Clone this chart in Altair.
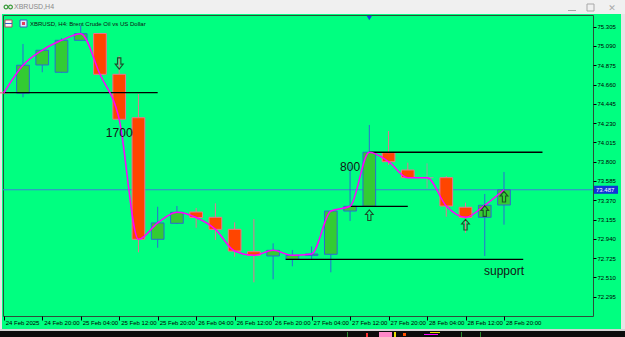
import altair as alt
import pandas as pd

# ---------------- data ----------------
bars = list(range(1, 28))
opens = [74.570, 74.563, 74.878, 74.797, 75.153, 75.229, 74.774, 74.290, 72.935, 73.113,
         73.239, 73.180, 73.046, 72.797, 72.749, 72.712, 72.756, 72.768, 73.250, 73.303,
         73.900, 73.707, 73.622, 73.622, 73.292, 73.180, 73.317]
highs = [74.585, 75.112, 75.050, 75.176, 75.318, 75.235, 74.978, 74.555, 73.298, 73.306,
         73.284, 73.336, 73.124, 73.161, 72.890, 72.816, 72.855, 73.250, 73.763, 74.209,
         74.142, 73.789, 73.782, 73.641, 73.343, 73.440, 73.685]
lows = [74.555, 74.518, 74.797, 74.790, 75.150, 74.770, 74.270, 72.790, 72.841, 73.105,
        73.064, 72.927, 72.741, 72.455, 72.489, 72.634, 72.715, 72.567, 73.139, 73.300,
        73.763, 73.620, 73.503, 73.187, 73.008, 72.749, 73.098]
closes = [74.566, 74.875, 75.042, 75.153, 75.227, 74.774, 74.273, 72.935, 73.117, 73.236,
          73.178, 73.046, 72.804, 72.756, 72.812, 72.756, 72.771, 73.250, 73.303, 73.905,
          73.800, 73.622, 73.622, 73.306, 73.180, 73.314, 73.487]

label_bars = [1, 3, 5, 7, 9, 11, 13, 15, 17, 19, 21, 23, 25, 27]
time_labels = ["24 Feb 2025", "24 Feb 20:00", "25 Feb 04:00", "25 Feb 12:00", "25 Feb 20:00",
               "26 Feb 04:00", "26 Feb 12:00", "26 Feb 20:00", "27 Feb 04:00", "27 Feb 12:00",
               "27 Feb 20:00", "28 Feb 04:00", "28 Feb 12:00", "28 Feb 20:00"]
price_ticks = [75.305, 75.090, 74.875, 74.660, 74.445, 74.230, 74.015, 73.800, 73.585,
               73.370, 73.155, 72.940, 72.725, 72.510, 72.295]

hl_start = [0.97, 20.0, 19.0, 15.65]
hl_end = [9.0, 29.0, 22.0, 28.0]
hl_price = [74.569, 73.905, 73.303, 72.712]

arrow_bars = [7, 20, 25, 26, 27]
arrow_prices = [74.895, 73.204, 73.098, 73.250, 73.410]
arrow_dirs = ["down", "up", "up", "up", "up"]

ann_text = ["1700", "800", "support"]
ann_bars = [7, 19, 27]
ann_prices = [74.123, 73.741, 72.580]

current_price = closes[-1]
symbol_title = "XBRUSD, H4:  Brent Crude Oil vs US Dollar"
window_title = "XBRUSD,H4"

# ---------------- geometry / styles ----------------
W, H = 590, 301
OX, OY = 3, 15  # plot origin in page pixels
GREEN = "#00ff80"
FONT = "Liberation Sans"

xs = alt.Scale(domain=[0.9605, 31.626], nice=False, zero=False)
ys = alt.Scale(domain=[72.080, 75.435], nice=False, zero=False)

kinds = ["bull", "bear", "doji"]
stroke_scale = alt.Scale(domain=kinds, range=["#2a6bd6", "#ec7090", "#9aa0a0"])
fill_scale = alt.Scale(domain=kinds, range=["#33cc33", "#ff4500", "#9aa0a0"])

df = pd.DataFrame({"bar": bars, "open": opens, "high": highs, "low": lows, "close": closes})
df["kind"] = ["bull" if c > o else ("bear" if c < o else "doji") for o, c in zip(opens, closes)]

lbl_arr = [""] * 28
for b, t in zip(label_bars, time_labels):
    lbl_arr[b] = t
label_expr = "[" + ",".join("'" + s + "'" for s in lbl_arr) + "][datum.value]"

x_axis = alt.Axis(values=label_bars, labelExpr=label_expr, orient="bottom", title=None,
                  grid=False, domain=False, ticks=True, tickSize=4, tickColor="#000000",
                  labelAlign="left", labelBaseline="middle", labelPadding=2, labelOffset=1.5,
                  labelFontSize=6, labelFont=FONT, labelColor="#000000",
                  labelOverlap=False, labelFlush=False, labelBound=False)
y_axis = alt.Axis(values=price_ticks, format=".3f", orient="right", title=None, grid=False,
                  domain=False, tickSize=3, tickColor="#000000", labelPadding=1,
                  labelFontSize=6, labelFont=FONT, labelColor="#000000",
                  labelOverlap=False, labelFlush=False, labelBound=False)


def X(field):
    return alt.X(field, type="quantitative", scale=xs, axis=x_axis)


def Y(field):
    return alt.Y(field, type="quantitative", scale=ys, axis=y_axis)


one = pd.DataFrame({"d": [0]})


def prect(x1, y1, x2, y2, fill, stroke=None, sw=1):
    kw = dict(clip=False)
    kw["fill"] = fill if fill else "transparent"
    if stroke:
        kw.update(stroke=stroke, strokeWidth=sw)
    return alt.Chart(one).mark_rect(**kw).encode(
        x=alt.value(x1 - OX), x2=alt.value(x2 - OX),
        y=alt.value(y1 - OY), y2=alt.value(y2 - OY))


def ptext(txt, x, y, size, color, align="left", font=FONT):
    return alt.Chart(one).mark_text(text=txt, fontSize=size, color=color, align=align,
                                    baseline="middle", font=font, clip=False).encode(
        x=alt.value(x - OX), y=alt.value(y - OY))


def pring(x, y):
    return alt.Chart(one).mark_point(shape="circle", size=14, filled=False, stroke="#3a9a3a",
                                     strokeWidth=1.2, opacity=1, clip=False).encode(
        x=alt.value(x - OX), y=alt.value(y - OY))


# ---------------- frame decorations ----------------
deco = [
    prect(0, 0, 625, 14, "#f0f0f0"),
    prect(0, 14, 2, 329, "#e6e6e6"),
    prect(621, 14, 625, 329, "#e6e6e6"),
    prect(0, 329, 625, 331, "#d4d4d4"),
    prect(0, 331, 625, 337, "#0c0c0c"),
    prect(379, 332, 392, 337, "#ff88c8"),
    prect(347, 332, 348, 337, "#2c8a2c"),
    prect(366, 333, 368, 337, "#ff3030"),
    prect(394, 332, 396, 337, "#e8e000"),
    prect(403, 333, 406, 336, "#ff5000"),
    prect(424, 334, 438, 335, "#ff00ff"),
    prect(430, 332, 440, 333, "#e8e000"),
    prect(461, 332, 462, 337, "#2c8a2c"),
    prect(480, 332, 481, 337, "#2c8a2c"),
    # window title bar
    pring(6, 7),
    pring(10.5, 7),
    ptext(window_title, 14, 7, 7, "#8a8a8a"),
    prect(568, 10, 576, 11, "#a8a8a8"),
    prect(587, 4, 594, 11, None, "#a8a8a8"),
    ptext("\u2715", 612, 7.5, 9, "#a8a8a8", align="center", font="DejaVu Sans"),
    # chart header icons
    prect(5, 20, 12, 27, "#f6f6f6", "#c04060"),
    prect(5, 23, 12, 24, "#3060c0"),
    prect(20, 20, 27, 27, "#dce6fa", "#3060c0"),
    prect(22, 22, 25, 25, "#e04060"),
    ptext(symbol_title, 30, 24, 6, "#101010"),
]

# ---------------- data layers ----------------
cur_df = pd.DataFrame({"price": [current_price], "lo": [current_price - 0.045],
                       "hi": [current_price + 0.045], "txt": [f"{current_price:.3f}"]})

cur_line = alt.Chart(cur_df).mark_rule(color="#3f7fd8", strokeWidth=1).encode(
    x=alt.value(0), x2=alt.value(W), y=Y("price"))

wicks = alt.Chart(df).mark_rule(strokeWidth=1).encode(
    x=X("bar"), y=Y("low"), y2="high:Q",
    stroke=alt.Stroke("kind:N", scale=stroke_scale, legend=None))

bodies = alt.Chart(df).transform_calculate(
    x0="datum.bar - 0.33", x1="datum.bar + 0.33"
).mark_rect(strokeWidth=1).encode(
    x=X("x0"), x2="x1:Q", y=Y("open"), y2="close:Q",
    fill=alt.Fill("kind:N", scale=fill_scale, legend=None),
    stroke=alt.Stroke("kind:N", scale=stroke_scale, legend=None))

hl_df = pd.DataFrame({"s": hl_start, "e": hl_end, "p": hl_price})
hlines = alt.Chart(hl_df).mark_rule(color="#000000", strokeWidth=1.3).encode(
    x=X("s"), x2="e:Q", y=Y("p"))

close_line = alt.Chart(df).mark_line(color="#ff00ff", strokeWidth=1.5, interpolate="monotone").encode(
    x=X("bar"), y=Y("close"))

arr_df = pd.DataFrame({"bar": arrow_bars, "price": arrow_prices, "dir": arrow_dirs})
UP = "M0,-1L0.72,-0.12L0.3,-0.12L0.3,1L-0.3,1L-0.3,-0.12L-0.72,-0.12Z"
DOWN = "M0,1L0.72,0.12L0.3,0.12L0.3,-1L-0.3,-1L-0.3,0.12L-0.72,0.12Z"
arrows_up = alt.Chart(arr_df).transform_filter("datum.dir == 'up'").mark_point(
    shape=UP, size=115, filled=False, stroke="#1c4d2a", strokeWidth=1.1, opacity=1).encode(
    x=X("bar"), y=Y("price"))
arrows_down = alt.Chart(arr_df).transform_filter("datum.dir == 'down'").mark_point(
    shape=DOWN, size=125, filled=False, stroke="#1c4d2a", strokeWidth=1.1, opacity=1).encode(
    x=X("bar"), y=Y("price"))

ann_df = pd.DataFrame({"bar": ann_bars, "price": ann_prices, "t": ann_text})
anns = alt.Chart(ann_df).mark_text(fontSize=12, font=FONT, color="#141414").encode(
    x=X("bar"), y=Y("price"), text="t:N")

shift_marker = alt.Chart(pd.DataFrame({"bar": [20]})).mark_point(
    shape="triangle-down", size=28, filled=True, fill="#1f3fe0", opacity=1).encode(
    x=X("bar"), y=alt.value(3))

cur_box = alt.Chart(cur_df).mark_rect(fill="#1034d8", clip=False).encode(
    x=alt.value(W + 1), x2=alt.value(W + 25), y=Y("hi"), y2="lo:Q")
cur_txt = alt.Chart(cur_df).mark_text(fontSize=6, font=FONT, color="#ffffff", align="left",
                                      baseline="middle", clip=False).encode(
    x=alt.value(W + 3), y=Y("price"), text="txt:N")

layers = deco + [cur_line, wicks, bodies, hlines, close_line,
                 arrows_up, arrows_down, anns, shift_marker, cur_box, cur_txt]

chart = alt.layer(*layers).resolve_scale(x="shared", y="shared").properties(
    width=W, height=H,
    padding={"left": OX, "top": OY, "right": 625 - OX - W, "bottom": 337 - OY - H},
    autosize=alt.AutoSizeParams(type="none"),
    background=GREEN,
).configure_view(stroke="#2d4f3a", strokeWidth=1, fill=None)

chart.save("out.html", embed_options={"renderer": "svg", "actions": False})
